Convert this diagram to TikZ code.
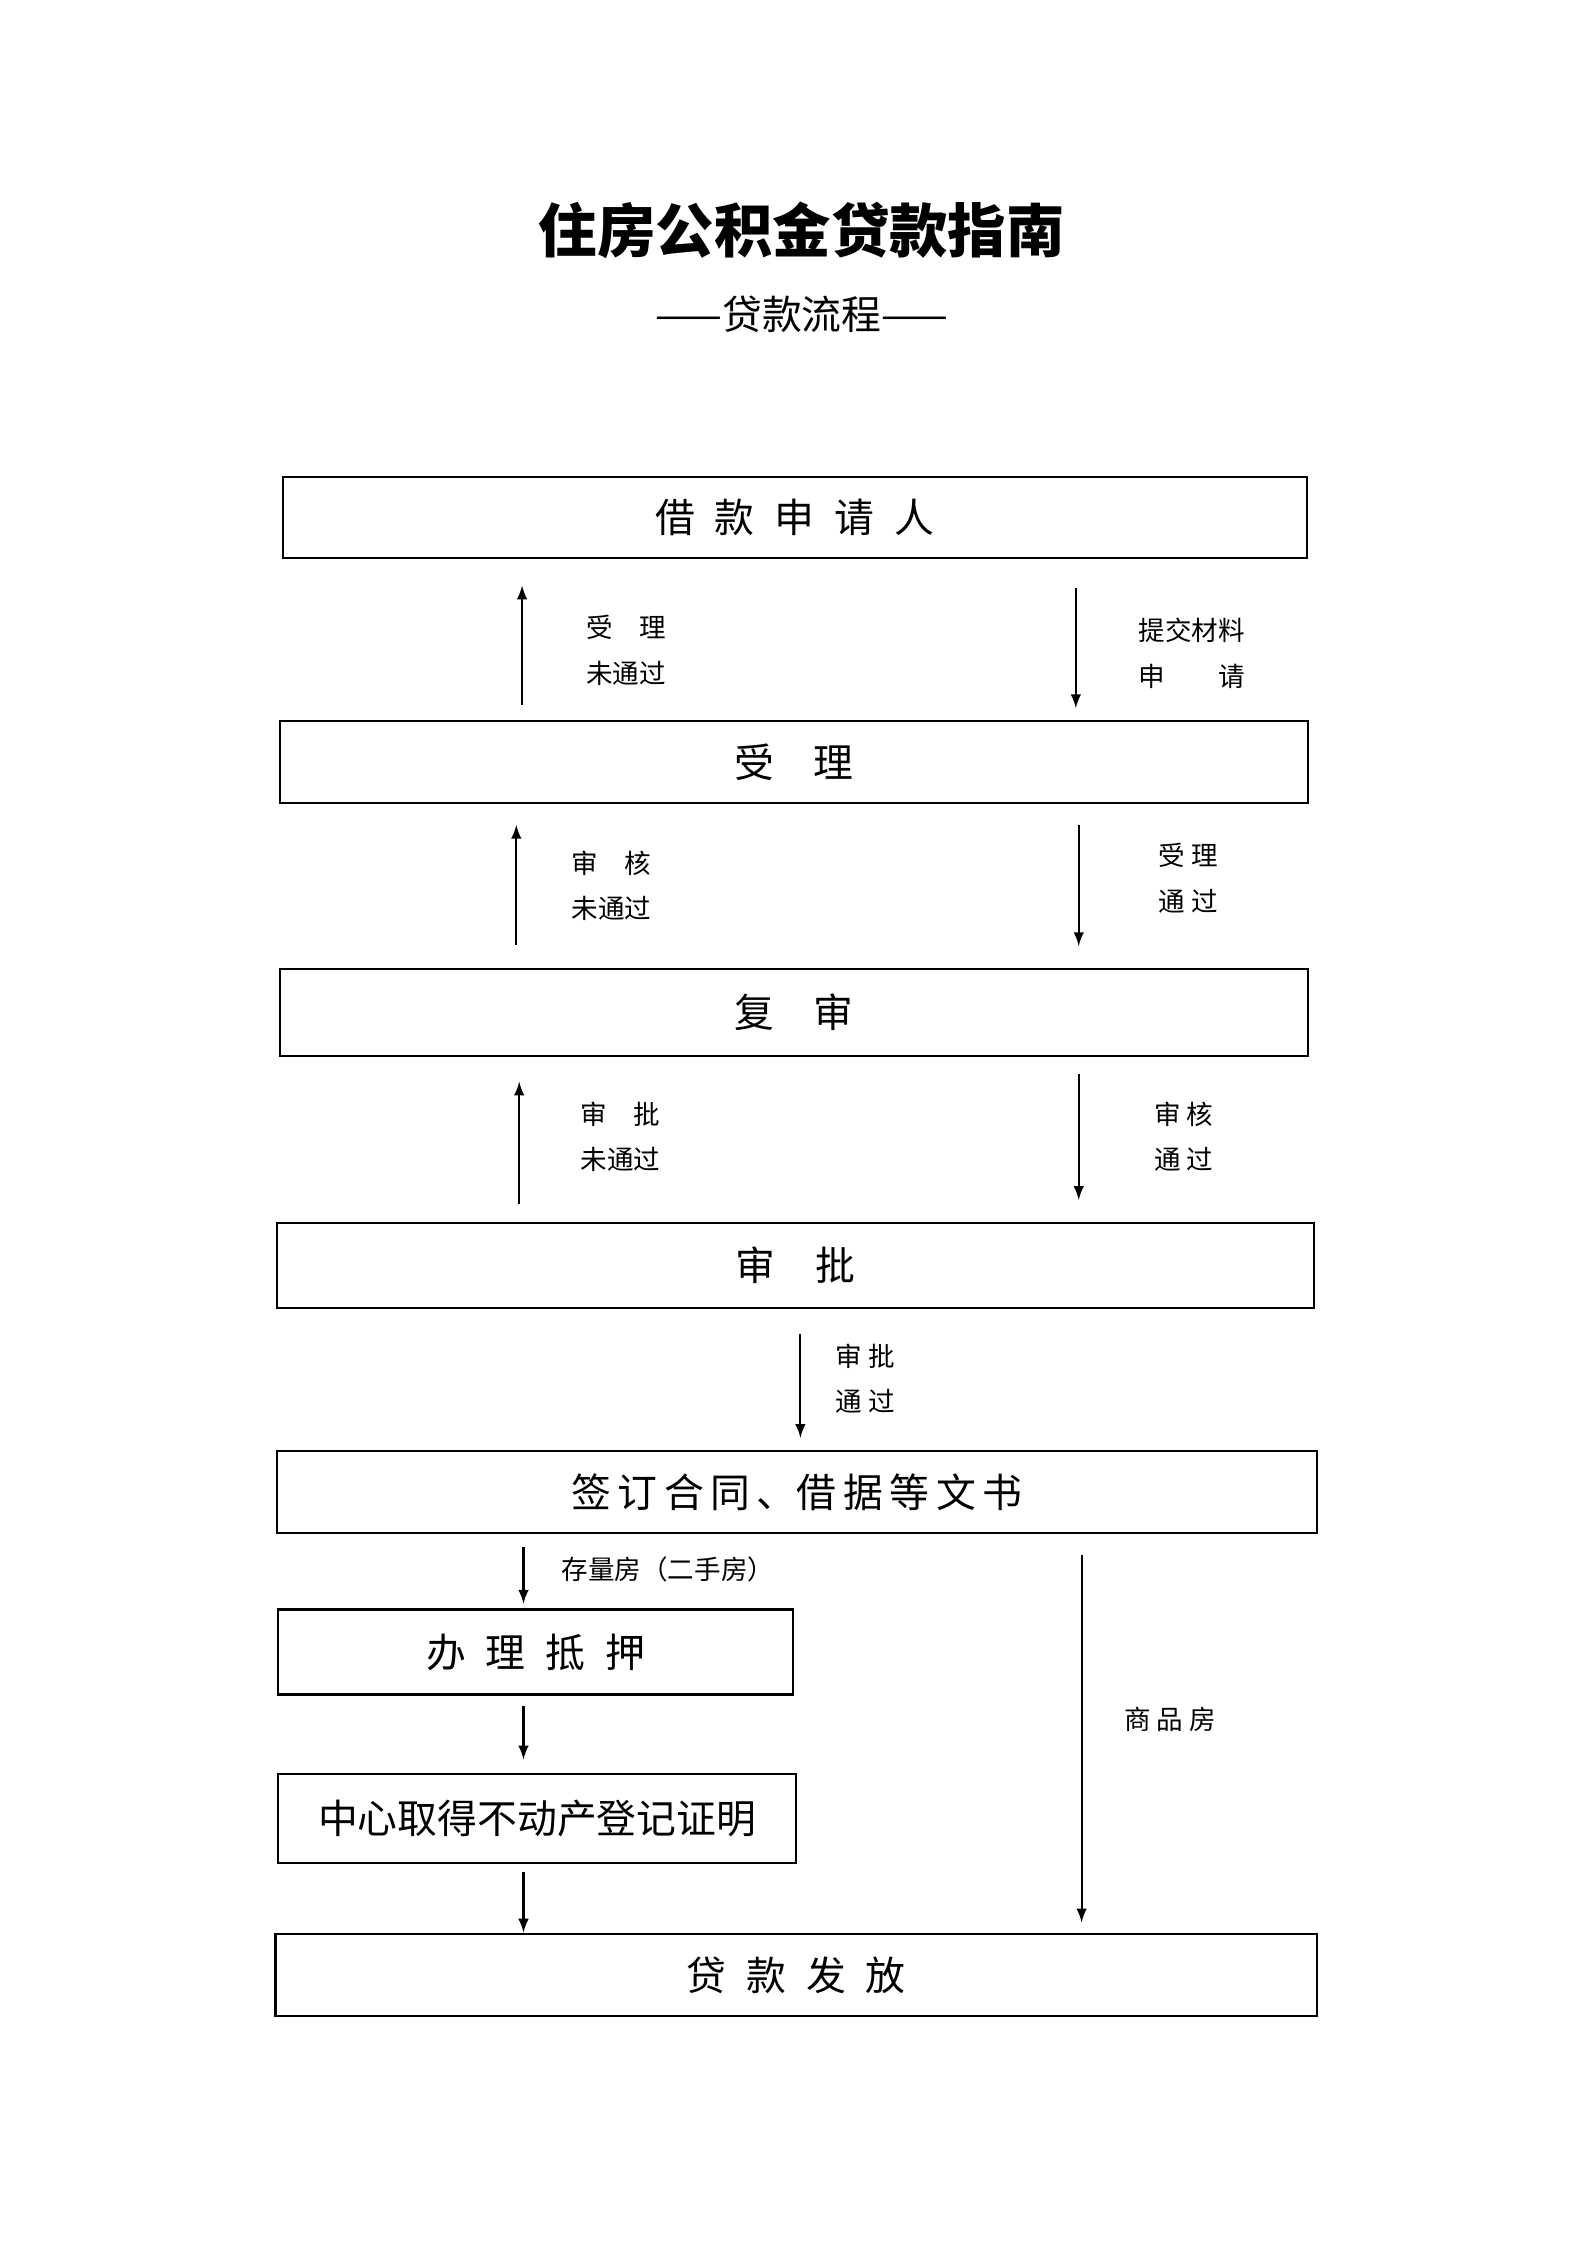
\documentclass[tikz,border=0pt]{standalone}
\usepackage{fontspec}
\newfontfamily\cjk{Noto Sans CJK SC}
\begin{document}
\begin{tikzpicture}[x=0.01909cm,y=-0.01909cm,font=\cjk,
  box/.style={draw,thick,inner sep=0pt},
  lab/.style={anchor=west,font=\cjk\fontsize{10}{17}\selectfont,align=left},
  arr/.style={-latex,thick}]
\useasboundingbox (0,0) rectangle (1100,1556);
\node (title) at (556,160) {\fontsize{22}{26}\selectfont\bfseries 住房公积金贷款指南};
\node (sub) at (556,218) {\fontsize{15}{18}\selectfont ——贷款流程——};

\newcommand\boxat[6]{\draw[thick] (#2,#3) rectangle (#4,#5);
  \node (#1) at ({(#2+#4)/2},{(#3+#5)/2}) {\fontsize{15}{18}\selectfont #6};}
\boxat{apply}{196}{331}{906}{387}{借\enspace 款\enspace 申\enspace 请\enspace 人}
\boxat{accept}{194}{500}{907}{557}{受\quad 理}
\boxat{review}{194}{672}{907}{732}{复\quad 审}
\boxat{approve}{192}{848}{911}{907}{审\quad 批}
\boxat{sign}{192}{1006}{913}{1063}{签\,订\,合\,同\,、借\,据\,等\,文\,书}
\boxat{mortgage}{193}{1116}{550}{1175}{办\enspace 理\enspace 抵\enspace 押}
\boxat{cert}{193}{1230}{552}{1292}{中心取得不动产登记证明}
\boxat{loan}{191}{1341}{913}{1398}{贷\enspace 款\enspace 发\enspace 放}

% rows of arrows
\coordinate (a1) at (362,489); \coordinate (a2) at (362,406);
\coordinate (b1) at (746,408); \coordinate (b2) at (746,491);
\draw[arr] (a1) -- (a2); \draw[arr] (b1) -- (b2);
\node[lab] (l1) at (400,451) {受\quad 理\\未通过};
\node[lab] (r1) at (783,453) {提交材料\\申\qquad 请};

\coordinate (a3) at (358,655); \coordinate (a4) at (358,572);
\coordinate (b3) at (748,572); \coordinate (b4) at (748,656);
\draw[arr] (a3) -- (a4); \draw[arr] (b3) -- (b4);
\node[lab] (l2) at (390,614) {审\quad 核\\未通过};
\node[lab] (r2) at (797,609) {受\ 理\\通\ 过};

\coordinate (a5) at (360,835); \coordinate (a6) at (360,750);
\coordinate (b5) at (748,745); \coordinate (b6) at (748,832);
\draw[arr] (a5) -- (a6); \draw[arr] (b5) -- (b6);
\node[lab] (l3) at (396,788) {审\quad 批\\未通过};
\node[lab] (r3) at (794,788) {审\ 核\\通\ 过};

\coordinate (c1) at (555,925); \coordinate (c2) at (555,997);
\draw[arr] (c1) -- (c2);
\node[lab] (m1) at (573,956) {审\ 批\\通\ 过};

\coordinate (d1) at (363,1073); \coordinate (d2) at (363,1112);
\coordinate (d3) at (363,1183); \coordinate (d4) at (363,1220);
\coordinate (d5) at (363,1298); \coordinate (d6) at (363,1340);
\coordinate (e1) at (750,1078); \coordinate (e2) at (750,1333);
\draw[arr] (d1) -- (d2); \draw[arr] (d3) -- (d4); \draw[arr] (d5) -- (d6);
\draw[arr] (e1) -- (e2);
\node[lab] (m2) at (383,1088) {存量房（二手房）};
\node[lab] (m3) at (773,1192) {商\ 品\ 房};
\end{tikzpicture}
\end{document}
